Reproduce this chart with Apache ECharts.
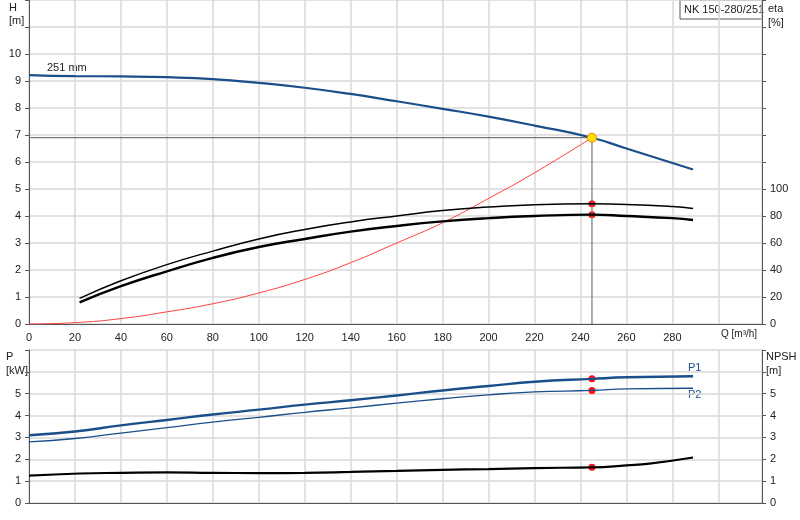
<!DOCTYPE html>
<html><head><meta charset="utf-8">
<script src="https://cdn.jsdelivr.net/npm/echarts@6/dist/echarts.min.js"></script>
<style>html,body{margin:0;padding:0;background:#fff}#c{width:800px;height:520px}</style>
</head><body><div id="c"></div>
<script>
const headQ = [0,20,40,60,80,100,120,140,160,180,200,220,245,260,289];
const headH = [9.22,9.18,9.17,9.14,9.07,8.93,8.75,8.52,8.25,7.97,7.68,7.35,6.9,6.5,5.72];
const etaQ = [22,40,60,80,100,120,140,160,180,200,220,245,260,280,289];
const etaUpper = [19,32,44,54,63,70,75.6,80,84,86.6,88.4,89,88.6,87,85.6];
const etaLower = [16,28,39,49,57,63,68.4,72.6,76,78.4,80,81,80,78.4,77];
const sysQ = [0,20,40,60,80,100,120,140,160,180,200,220,245];
const sysH = [0,0.05,0.2,0.45,0.75,1.15,1.65,2.27,3.0,3.75,4.65,5.6,6.9];
const powQ = [0,20,40,60,80,100,120,140,160,180,200,220,245,260,289];
const p1 = [3.1,3.27,3.55,3.8,4.05,4.27,4.5,4.7,4.92,5.15,5.35,5.55,5.68,5.75,5.8];
const p2 = [2.8,2.95,3.2,3.45,3.7,3.92,4.15,4.35,4.57,4.77,4.95,5.08,5.15,5.22,5.25];
const npshQ = [0,22,40,60,80,100,120,140,160,180,200,220,245,260,270,289];
const npsh = [1.25,1.35,1.38,1.4,1.38,1.37,1.38,1.42,1.47,1.52,1.55,1.6,1.63,1.72,1.8,2.08];
const dutyQ = 245, dutyH = 6.9, dutyEtaU = 89, dutyEtaL = 81, dutyP1 = 5.68, dutyP2 = 5.15, dutyNpsh = 1.63;
const xTicks = [0,20,40,60,80,100,120,140,160,180,200,220,240,260,280];

const F = 'Liberation Sans';
const z = (a,b)=>a.map((v,i)=>[v,b[i]]);
const grid = {lineStyle:{color:'#d9d9d9',width:1.5}};
const axLine = {lineStyle:{color:'#555'}};
const lab = {color:'#222',fontSize:11,fontFamily:F};
const dot = {color:'#ff1010',opacity:1};
const chart = echarts.init(document.getElementById('c'));
chart.setOption({
  animation:false,
  grid:[{left:29,right:38,top:0,height:324},{left:29,right:38,top:350,height:153}],
  xAxis:[
    {gridIndex:0,type:'value',min:0,max:319,interval:20,axisLine:axLine,axisTick:{show:false},splitLine:grid,
     axisLabel:{...lab,formatter:v=>xTicks.includes(v)?v:''}},
    {gridIndex:1,type:'value',min:0,max:319,interval:20,axisLine:axLine,axisTick:{show:false},splitLine:grid,axisLabel:{show:false}}
  ],
  yAxis:[
    {gridIndex:0,type:'value',min:0,max:12,interval:1,axisLine:{show:true,...axLine},axisTick:{show:true,length:4},splitLine:grid,
     axisLabel:{...lab,margin:8,formatter:v=>v<=10?v:''}},
    {gridIndex:0,type:'value',position:'right',min:0,max:240,interval:20,axisLine:{show:true,...axLine},axisTick:{show:true,length:4},splitLine:{show:false},
     axisLabel:{...lab,formatter:v=>v<=100?v:''}},
    {gridIndex:1,type:'value',min:0,max:7,interval:1,axisLine:{show:true,...axLine},axisTick:{show:true,length:4},splitLine:grid,
     axisLabel:{...lab,formatter:v=>v<=5?v:''}},
    {gridIndex:1,type:'value',position:'right',min:0,max:7,interval:1,axisLine:{show:true,...axLine},axisTick:{show:true,length:4},splitLine:{show:false},
     axisLabel:{...lab,formatter:v=>v<=5?v:''}}
  ],
  series:[
    {type:'line',xAxisIndex:0,yAxisIndex:0,data:[[0,dutyH],[dutyQ,dutyH],[dutyQ,0]],symbol:'none',lineStyle:{color:'#777',width:1.2}},
    {type:'line',xAxisIndex:0,yAxisIndex:0,data:z(sysQ,sysH),smooth:true,symbol:'none',lineStyle:{color:'#ff4040',width:1}},
    {type:'line',xAxisIndex:0,yAxisIndex:0,data:z(headQ,headH),smooth:true,symbol:'none',lineStyle:{color:'#1a4f8a',width:2.2},
     markPoint:{symbol:'circle',symbolSize:9,itemStyle:{color:'#ffe000',borderColor:'#f08000',borderWidth:1},label:{show:false},data:[{coord:[dutyQ,dutyH]}]}},
    {type:'line',xAxisIndex:0,yAxisIndex:1,data:z(etaQ,etaUpper),smooth:true,symbol:'none',lineStyle:{color:'#000',width:1.5}},
    {type:'line',xAxisIndex:0,yAxisIndex:1,data:z(etaQ,etaLower),smooth:true,symbol:'none',lineStyle:{color:'#000',width:2.4}},
    {type:'scatter',xAxisIndex:0,yAxisIndex:1,data:[[dutyQ,dutyEtaU],[dutyQ,dutyEtaL]],symbolSize:7,itemStyle:dot},
    {type:'line',xAxisIndex:1,yAxisIndex:2,data:z(powQ,p1),smooth:true,symbol:'none',lineStyle:{color:'#1a4f8a',width:2.4}},
    {type:'line',xAxisIndex:1,yAxisIndex:2,data:z(powQ,p2),smooth:true,symbol:'none',lineStyle:{color:'#1a4f8a',width:1.3}},
    {type:'line',xAxisIndex:1,yAxisIndex:3,data:z(npshQ,npsh),smooth:true,symbol:'none',lineStyle:{color:'#000',width:2.2}},
    {type:'scatter',xAxisIndex:1,yAxisIndex:2,data:[[dutyQ,dutyP1],[dutyQ,dutyP2],[dutyQ,dutyNpsh]],symbolSize:7,itemStyle:dot}
  ],
  graphic:[
    {type:'text',left:9,top:2,style:{text:'H',fill:'#222',font:'11px '+F}},
    {type:'text',left:9,top:15,style:{text:'[m]',fill:'#222',font:'11px '+F}},
    {type:'text',left:768,top:2,style:{text:'eta\n[%]',fill:'#222',font:'11px '+F,lineHeight:14}},
    {type:'rect',shape:{x:680,y:0,width:82,height:19},style:{fill:'#fff',stroke:'#555',lineWidth:1}},
    {type:'text',left:684,top:4,style:{text:'NK 150-280/251',fill:'#222',font:'11px '+F}},
    {type:'text',left:47,top:62,style:{text:'251 mm',fill:'#222',font:'11px '+F}},
    {type:'text',left:721,top:329,style:{text:'Q [m³/h]',fill:'#222',font:'10px '+F}},
    {type:'text',left:6,top:350,style:{text:'P\n[kW]',fill:'#222',font:'11px '+F,lineHeight:14}},
    {type:'text',left:766,top:350,style:{text:'NPSH\n[m]',fill:'#222',font:'11px '+F,lineHeight:14}},
    {type:'text',left:688,top:362,style:{text:'P1',fill:'#1a4f8a',font:'11px '+F}},
    {type:'text',left:688,top:389,style:{text:'P2',fill:'#1a4f8a',font:'11px '+F}}
  ]
});
</script></body></html>
